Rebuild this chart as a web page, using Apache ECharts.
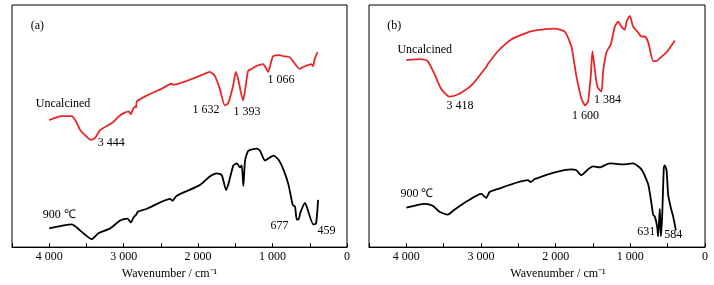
<!DOCTYPE html>
<html>
<head>
<meta charset="utf-8">
<script src="https://cdn.jsdelivr.net/npm/echarts@6/dist/echarts.min.js"></script>
<style>
  html, body { margin: 0; padding: 0; background: #fff; }
  #main { width: 714px; height: 285px; }
</style>
</head>
<body>
<div id="main"></div>
<script>
// FTIR spectra, relative transmittance (a.u.), wavenumber in cm-1
const redA = [[4000,129],[3832,133],[3698,133],[3651,129],[3584,119],[3494,112],[3441,109],[3383,111],[3315,119],[3158,126],[3047,134],[2935,138],[2903,135],[2876,140],[2840,143],[2832,142],[2823,148],[2689,154],[2488,161],[2358,166],[2336,165],[1978,174],[1843,178],[1776,174],[1709,161],[1642,144],[1597,146],[1530,164],[1494,178],[1463,171],[1396,149],[1360,164],[1329,179],[1284,181],[1217,184],[1128,186],[1083,181],[1060,178],[1016,189],[993,194],[904,195],[859,194],[770,193],[635,181],[590,183],[479,186],[456,184],[434,191],[395,198]];
const blackA = [[4000,19],[3698,23],[3631,20],[3541,14],[3429,8],[3340,14],[3182,19],[3047,27],[2949,29],[2903,25],[2868,30],[2832,33],[2810,36],[2689,39],[2376,49],[2345,47],[2291,52],[1978,63],[1839,72],[1749,75],[1682,73],[1624,58],[1593,64],[1526,83],[1481,85],[1436,81],[1414,83],[1392,62],[1369,88],[1324,98],[1212,100],[1168,98],[1101,88],[989,93],[922,89],[855,79],[788,64],[729,43],[698,41],[675,28],[653,28],[622,36],[564,45],[541,41],[452,23],[416,24],[388,48]];
const redB = [[4000,190],[3803,191],[3714,189],[3624,176],[3535,161],[3423,153],[3311,155],[3132,164],[2931,183],[2908,186],[2774,199],[2595,211],[2380,218],[2349,219],[2192,221],[2013,222],[1879,219],[1790,204],[1723,174],[1655,151],[1605,144],[1566,148],[1530,174],[1508,199],[1477,181],[1441,163],[1387,158],[1365,178],[1320,198],[1262,206],[1208,224],[1163,229],[1119,224],[1074,221],[1051,229],[1007,235],[962,224],[895,218],[850,214],[805,214],[760,208],[694,189],[649,189],[604,192],[515,198],[403,210]];
const blackB = [[4000,40],[3758,44],[3646,42],[3557,36],[3445,33],[3356,38],[3177,47],[2998,54],[2931,50],[2886,56],[2819,58],[2371,68],[2336,66],[2282,69],[2013,76],[1790,79],[1723,78],[1655,73],[1566,79],[1499,82],[1411,81],[1277,85],[1098,84],[964,85],[851,79],[762,64],[716,44],[695,33],[672,31],[641,21],[628,11],[605,39],[591,11],[574,31],[551,81],[538,83],[515,78],[493,53],[461,41],[426,31],[390,17]];

// text annotations: [wavenumber, T, text] (left edge of the text)
const notesA = [[4255,225,'(a)'],[4188,146,'Uncalcined'],[3356,106,'3 444'],[2081,139,'1 632'],[1530,137,'1 393'],[1074,170,'1 066'],[4094,33,'900 ℃'],[1034,22,'677'],[403,17,'459']];
const notesB = [[4261,225,'(b)'],[4126,200,'Uncalcined'],[3468,144,'3 418'],[1788,133,'1 600'],[1492,150,'1 384'],[4086,54,'900 ℃'],[914,15,'631'],[551,12,'584']];

const FONT = 'Liberation Serif';
const chart = echarts.init(document.getElementById('main'));

function xAxis(idx, shift) {
    return {
        type: 'value', gridIndex: idx, inverse: true, min: 0, max: 4500, interval: 500,
        name: 'Wavenumber / cm⁻¹', nameLocation: 'middle', nameGap: 20,
        nameTextStyle: { color: '#000', fontFamily: FONT, fontSize: 12,
            padding: shift < 0 ? [0, -2 * shift, 0, 0] : [0, 0, 0, 2 * shift] },
        axisLine: { lineStyle: { color: '#000', width: 1 } },
        axisTick: { inside: true, length: 4, lineStyle: { color: '#000' } },
        axisLabel: { color: '#000', fontFamily: FONT, fontSize: 12, margin: 4,
            formatter: v => (v % 1000 === 0 ? (v >= 1000 ? Math.floor(v / 1000) + ' 000' : '0') : '') },
        splitLine: { show: false }
    };
}
function yAxis(idx) {
    return { type: 'value', gridIndex: idx, min: 0, max: 246,
        axisLine: { show: false }, axisTick: { show: false }, axisLabel: { show: false }, splitLine: { show: false } };
}
function notes(list) {
    return {
        symbol: 'rect', symbolSize: 1, animation: false,
        itemStyle: { color: 'rgba(0,0,0,0)' },
        label: { show: true, position: 'right', distance: 0, color: '#000', fontFamily: FONT, fontSize: 12,
            formatter: p => p.name },
        data: list.map(n => ({ name: n[2], coord: [n[0], n[1]] }))
    };
}
function line(data, idx, color, marks) {
    const s = { type: 'line', xAxisIndex: idx, yAxisIndex: idx, data: data, showSymbol: false, smooth: 0.2,
        lineStyle: { color: color, width: 1.8 }, itemStyle: { color: color }, animation: false };
    if (marks) s.markPoint = notes(marks);
    return s;
}

chart.setOption({
    backgroundColor: '#fff',
    grid: [
        { left: 12, right: 367, top: 5, bottom: 34, show: true, borderColor: '#000', borderWidth: 1 },
        { left: 369, right: 9, top: 5, bottom: 34, show: true, borderColor: '#000', borderWidth: 1 }
    ],
    xAxis: [xAxis(0, -10), xAxis(1, 21)],
    yAxis: [yAxis(0), yAxis(1)],
    series: [
        line(redA, 0, '#e8262a', notesA),
        line(blackA, 0, '#000'),
        line(redB, 1, '#e8262a', notesB),
        line(blackB, 1, '#000')
    ]
});
</script>
</body>
</html>
